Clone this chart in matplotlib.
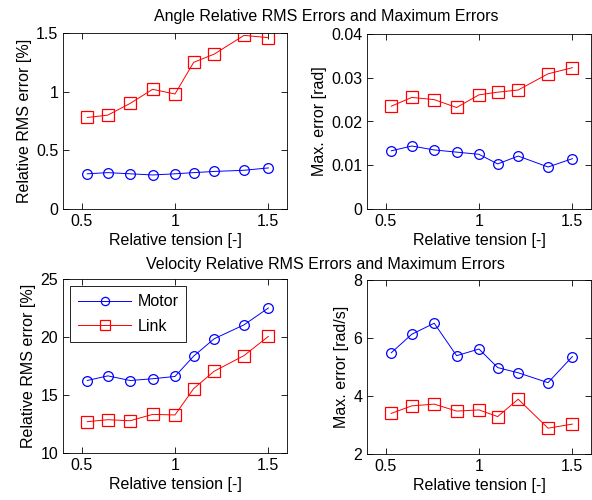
import numpy as np
import matplotlib
matplotlib.use('Agg')
import matplotlib.pyplot as plt

plt.rcParams['font.family'] = ['Liberation Sans', 'DejaVu Sans']
plt.rcParams['font.size'] = 11.5

# datos
tension = [0.53, 0.64, 0.76, 0.88, 1.0, 1.1, 1.21, 1.37, 1.5]

ang_rms_motor = [0.30, 0.31, 0.30, 0.29, 0.30, 0.31, 0.32, 0.33, 0.35]
ang_rms_link = [0.78, 0.80, 0.90, 1.02, 0.98, 1.25, 1.32, 1.48, 1.46]

ang_max_motor = [0.0133, 0.0144, 0.0135, 0.0130, 0.0125, 0.0103, 0.0121, 0.0096, 0.0115]
ang_max_link = [0.0235, 0.0255, 0.0250, 0.0232, 0.0261, 0.0267, 0.0272, 0.0309, 0.0323]

vel_rms_motor = [16.25, 16.65, 16.25, 16.4, 16.6, 18.35, 19.85, 21.05, 22.5]
vel_rms_link = [12.7, 12.87, 12.78, 13.33, 13.28, 15.55, 17.05, 18.4, 20.05]

vel_max_motor = [5.49, 6.13, 6.51, 5.39, 5.62, 4.98, 4.80, 4.46, 5.36]
vel_max_link = [3.40, 3.66, 3.72, 3.48, 3.52, 3.29, 3.89, 2.89, 3.03]

W, H = 592, 500
fig = plt.figure(figsize=(W / 100, H / 100), dpi=100)

def caja(x0, y0, x1, y1):
    # pixeles -> fraccion de figura
    return [x0 / W, 1 - y1 / H, (x1 - x0) / W, (y1 - y0) / H]

def panel(rect, motor, link, ylim, yticks, ylabel):
    ax = fig.add_axes(caja(*rect))
    ax.plot(tension, motor, '-o', color='blue', lw=0.7, ms=7,
            mfc='none', mew=0.9, label='Motor')
    ax.plot(tension, link, '-s', color='red', lw=0.7, ms=8,
            mfc='none', mew=0.9, label='Link')
    ax.set_xlim(0.4, 1.6)
    ax.set_xticks([0.5, 1, 1.5])
    ax.set_xticklabels(['0.5', '1', '1.5'])
    ax.set_ylim(*ylim)
    ax.set_yticks(yticks)
    ax.set_yticklabels([('%g' % t) for t in yticks])
    ax.tick_params(direction='in', top=True, right=True, length=4, width=0.6)
    for s in ax.spines.values():
        s.set_linewidth(0.6)
    ax.set_xlabel('Relative tension [-]', labelpad=3)
    ax.set_ylabel(ylabel, labelpad=3)
    return ax

panel((63, 33, 287, 209), ang_rms_motor, ang_rms_link, (0, 1.5),
      [0, 0.5, 1, 1.5], 'Relative RMS error [%]')
panel((367, 34, 591, 209), ang_max_motor, ang_max_link, (0, 0.04),
      [0, 0.01, 0.02, 0.03, 0.04], 'Max. error [rad]')
ax3 = panel((63, 279, 287, 453), vel_rms_motor, vel_rms_link, (10, 25),
            [10, 15, 20, 25], 'Relative RMS error [%]')
panel((367, 280, 591, 454), vel_max_motor, vel_max_link, (2, 8),
      [2, 4, 6, 8], 'Max. error [rad/s]')

leg = ax3.legend(loc='upper left', fancybox=False, edgecolor='black',
                 framealpha=1, handlelength=3.3, handletextpad=0.4,
                 borderpad=0.5, labelspacing=0.6, markerscale=0.85,
                 bbox_to_anchor=(0.0, 1.0), borderaxespad=0.45)
leg.get_frame().set_linewidth(0.6)

fig.text(326 / W, 1 - 17 / H, 'Angle Relative RMS Errors and Maximum Errors',
         ha='center', va='center')
fig.text(325 / W, 1 - 265 / H, 'Velocity Relative RMS Errors and Maximum Errors',
         ha='center', va='center')

fig.savefig('out.png', dpi=100)
